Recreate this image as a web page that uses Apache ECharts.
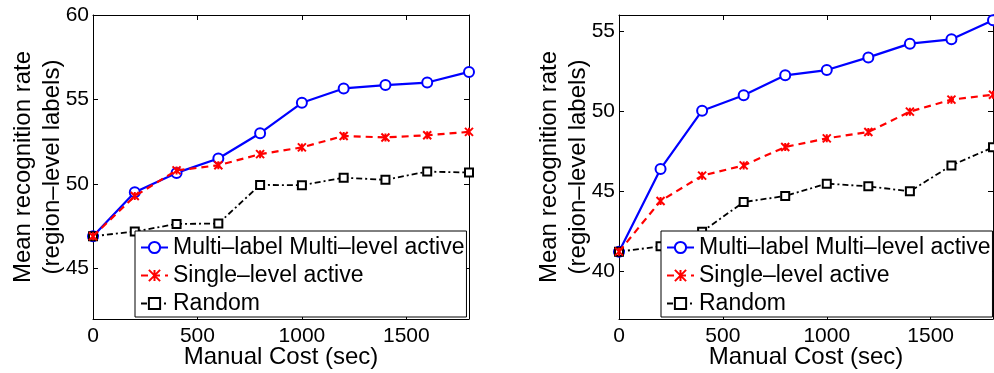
<!DOCTYPE html>
<html>
<head>
<meta charset="utf-8">
<script src="https://cdn.jsdelivr.net/npm/echarts@6/dist/echarts.min.js"></script>
<style>
html,body{margin:0;padding:0;background:#fff;}
#chart{width:994px;height:373px;}
</style>
</head>
<body>
<div id="chart"></div>
<script>
var costs = [0, 200, 400, 600, 800, 1000, 1200, 1400, 1600, 1800];
var seriesNames = ['Multi–label Multi–level active', 'Single–level active', 'Random'];

var leftMulti  = [46.9, 49.5, 50.65, 51.5, 53.0, 54.8, 55.65, 55.85, 56.0, 56.63];
var leftSingle = [46.9, 49.28, 50.8, 51.1, 51.76, 52.16, 52.84, 52.75, 52.88, 53.08];
var leftRandom = [46.9, 47.18, 47.63, 47.65, 49.94, 49.92, 50.37, 50.24, 50.73, 50.67];

var rightMulti  = [41.21, 46.38, 50.02, 50.98, 52.23, 52.56, 53.35, 54.21, 54.48, 55.67];
var rightSingle = [41.21, 44.38, 45.96, 46.6, 47.75, 48.29, 48.69, 49.96, 50.71, 51.02];
var rightRandom = [41.21, 41.54, 42.46, 44.31, 44.69, 45.46, 45.29, 44.98, 46.6, 47.73];

var xTicks = [0, 500, 1000, 1500];
var leftYTicks = [45, 50, 55, 60];
var rightYTicks = [40, 45, 50, 55];
var leftYRange = [42, 60];
var rightYRange = [37, 56];
var xRange = [0, 1800];

var xTitle = 'Manual Cost (sec)';
var yTitle = 'Mean recognition rate\n(region–level labels)';

var FONT = "'Liberation Sans', Arial, Helvetica, sans-serif";

function pairs(vals) { return costs.map(function (c, i) { return [c, vals[i]]; }); }
function plain(v) { return String(v); }

function xAxes(gi) {
  var base = {
    gridIndex: gi, type: 'value', min: xRange[0], max: xRange[1],
    axisLine: { show: true, onZero: false, lineStyle: { color: '#000', width: 1 } },
    axisTick: { show: true, inside: true, length: 5, customValues: xTicks, lineStyle: { color: '#000' } },
    splitLine: { show: false }
  };
  var bottom = Object.assign({}, base, {
    position: 'bottom',
    axisLabel: { show: true, customValues: xTicks, formatter: plain, margin: 7, color: '#000', fontSize: 21, fontFamily: FONT },
    name: xTitle, nameLocation: 'middle', nameGap: 26, nameMoveOverlap: false,
    nameTextStyle: { color: '#000', fontSize: 24, fontFamily: FONT }
  });
  var top = Object.assign({}, base, { position: 'top', axisLabel: { show: false } });
  return [bottom, top];
}

function yAxes(gi, range, ticks) {
  var base = {
    gridIndex: gi, type: 'value', min: range[0], max: range[1],
    axisLine: { show: true, onZero: false, lineStyle: { color: '#000', width: 1 } },
    axisTick: { show: true, inside: true, length: 5, customValues: ticks, lineStyle: { color: '#000' } },
    splitLine: { show: false }
  };
  var left = Object.assign({}, base, {
    position: 'left',
    axisLabel: { show: true, customValues: ticks, formatter: plain, margin: 4, color: '#000', fontSize: 21, fontFamily: FONT },
    name: yTitle, nameLocation: 'middle', nameGap: 26, nameRotate: 90, nameMoveOverlap: false,
    nameTextStyle: { color: '#000', fontSize: 24, lineHeight: 29, fontFamily: FONT }
  });
  var right = Object.assign({}, base, { position: 'right', axisLabel: { show: false } });
  return [left, right];
}

var starPath = 'path://M0,0L10,10M10,0L0,10M5,0L5,10';

function makeSeries(gi, multi, single, random) {
  var xi = gi * 2, yi = gi * 2;
  return [
    {
      name: seriesNames[0], type: 'line', xAxisIndex: xi, yAxisIndex: yi,
      data: pairs(multi), symbol: 'emptyCircle', symbolSize: 10,
      lineStyle: { color: '#0000ff', width: 2.2, type: 'solid' },
      itemStyle: { color: '#0000ff', borderColor: '#0000ff', borderWidth: 2 },
      animation: false, z: 2
    },
    {
      name: seriesNames[1], type: 'line', xAxisIndex: xi, yAxisIndex: yi,
      data: pairs(single), symbol: starPath, symbolSize: 8,
      lineStyle: { color: '#ff0000', width: 2.2, type: [7, 5] },
      itemStyle: { color: '#ff0000', borderColor: '#ff0000', borderWidth: 2 },
      animation: false, z: 3
    },
    {
      name: seriesNames[2], type: 'line', xAxisIndex: xi, yAxisIndex: yi,
      data: pairs(random), symbol: 'emptyRect', symbolSize: 8,
      lineStyle: { color: '#000000', width: 1.8, type: [6, 3, 2, 3] },
      itemStyle: { color: '#000000', borderColor: '#000000', borderWidth: 2 },
      animation: false, z: 2
    }
  ];
}

function legend(left) {
  return {
    left: left, top: 231, orient: 'vertical',
    backgroundColor: '#fff', borderColor: '#000', borderWidth: 1,
    padding: [5, 2, 2, 5], itemGap: 5, itemWidth: 27, itemHeight: 14, itemTextGap: 4,
    selectedMode: false,
    data: seriesNames,
    textStyle: { color: '#000', fontSize: 23, lineHeight: 23, fontFamily: FONT }
  };
}

var chart = echarts.init(document.getElementById('chart'), null, { renderer: 'canvas' });
chart.setOption({
  animation: false,
  backgroundColor: '#fff',
  textStyle: { fontFamily: FONT },
  grid: [
    { left: 93, top: 15, width: 376, height: 304, containLabel: false, outerBoundsMode: 'none' },
    { left: 619, top: 15, width: 374, height: 304, containLabel: false, outerBoundsMode: 'none' }
  ],
  xAxis: xAxes(0).concat(xAxes(1)),
  yAxis: yAxes(0, leftYRange, leftYTicks).concat(yAxes(1, rightYRange, rightYTicks)),
  legend: [legend(135), legend(661)],
  series: makeSeries(0, leftMulti, leftSingle, leftRandom).concat(makeSeries(1, rightMulti, rightSingle, rightRandom))
});
</script>
</body>
</html>
